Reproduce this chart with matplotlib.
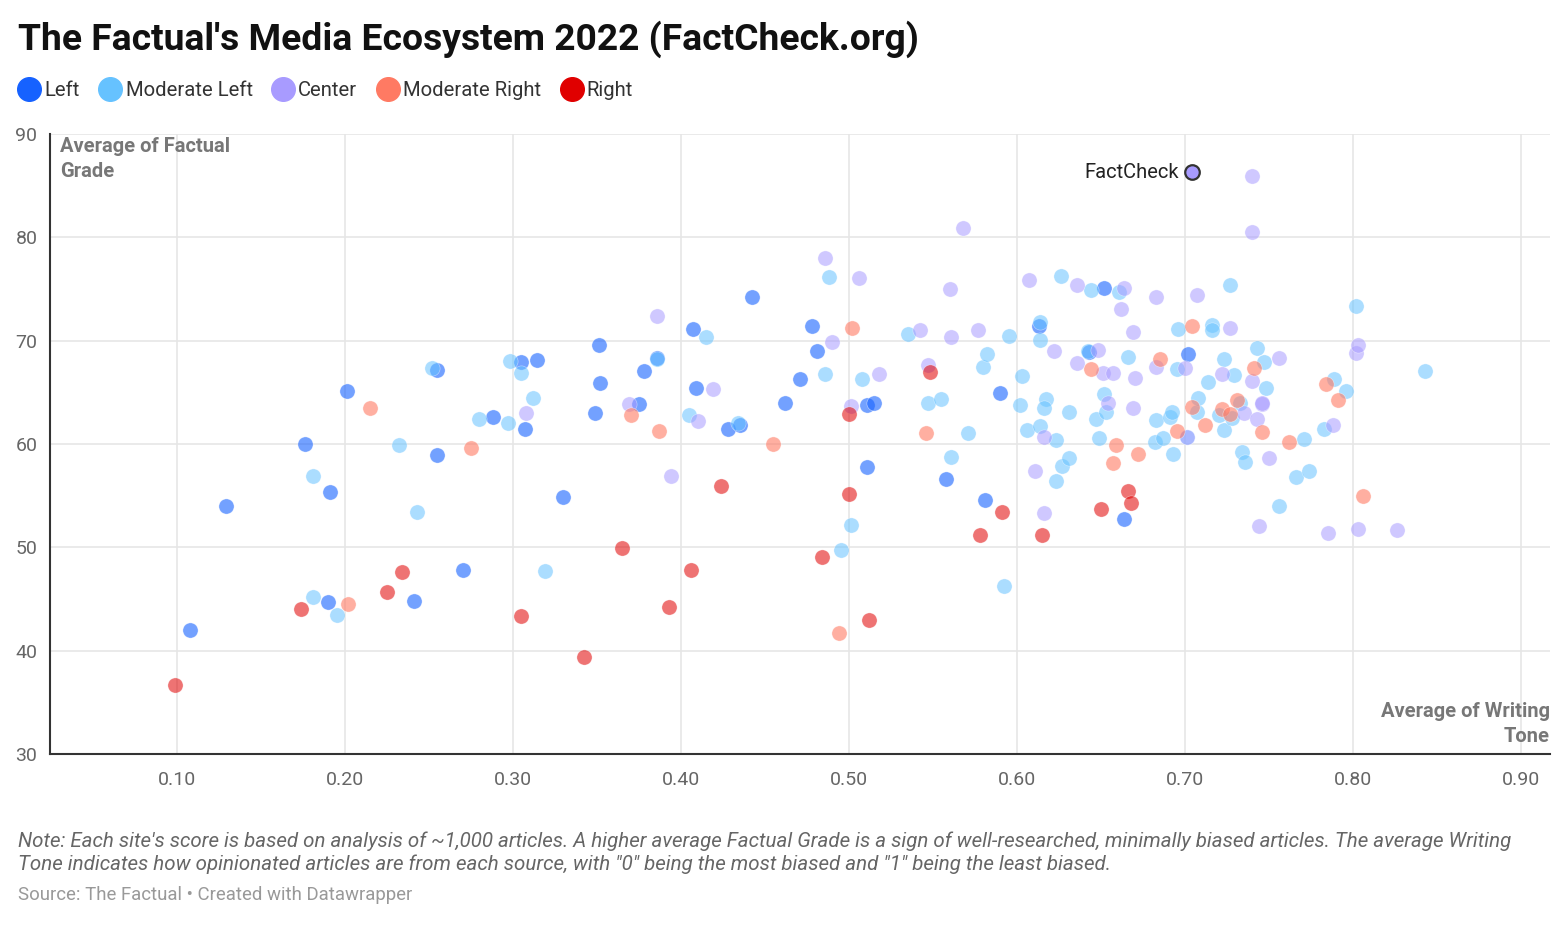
"""
The Factual's Media Ecosystem 2022 - scatter of writing tone vs factual grade.
Datawrapper-like styling.
"""
import matplotlib
matplotlib.use("Agg")
import matplotlib.pyplot as plt
from matplotlib.lines import Line2D

plt.rcParams["font.family"] = ["Roboto", "DejaVu Sans"]

# --- data (writing tone, factual grade) per bias group ---
LEFT_X = [0.108, 0.129, 0.176, 0.201, 0.191, 0.190, 0.241, 0.255, 0.255, 0.270,
          0.288, 0.305, 0.307, 0.314, 0.330, 0.351, 0.352, 0.349, 0.378, 0.375,
          0.386, 0.407, 0.409, 0.428, 0.435, 0.442, 0.462, 0.471, 0.478, 0.481,
          0.511, 0.515, 0.511, 0.558, 0.581, 0.590, 0.613, 0.643, 0.652, 0.664,
          0.702]
LEFT_Y = [42.0, 54.0, 60.0, 65.1, 55.4, 44.7, 44.8, 67.2, 58.9, 47.8,
          62.6, 67.9, 61.5, 68.1, 54.9, 69.6, 65.9, 63.0, 67.1, 63.9,
          68.3, 71.1, 65.4, 61.5, 61.8, 74.2, 64.0, 66.3, 71.4, 69.0,
          63.8, 64.0, 57.8, 56.6, 54.6, 64.9, 71.4, 68.9, 75.1, 52.7,
          68.7]

MODLEFT_X = [0.181, 0.195, 0.181, 0.232, 0.243, 0.252, 0.280, 0.297, 0.298, 0.305,
             0.312, 0.319, 0.386, 0.405, 0.415, 0.434, 0.488, 0.486, 0.508, 0.495,
             0.501, 0.535, 0.547, 0.555, 0.561, 0.571, 0.580, 0.582, 0.592, 0.595,
             0.603, 0.602, 0.606, 0.614, 0.614, 0.614, 0.617, 0.616, 0.623, 0.623,
             0.627, 0.631, 0.631, 0.626, 0.642, 0.644, 0.647, 0.649, 0.652, 0.653,
             0.661, 0.666, 0.682, 0.683, 0.687, 0.691, 0.692, 0.693, 0.695, 0.696,
             0.701, 0.707, 0.708, 0.714, 0.716, 0.716, 0.720, 0.723, 0.723, 0.727,
             0.728, 0.729, 0.733, 0.734, 0.736, 0.743, 0.747, 0.748, 0.756, 0.766,
             0.771, 0.774, 0.783, 0.789, 0.796, 0.802, 0.843]
MODLEFT_Y = [45.2, 43.5, 56.9, 59.9, 53.4, 67.4, 62.4, 62.0, 68.0, 66.9,
             64.5, 47.7, 68.2, 62.8, 70.4, 62.0, 76.2, 66.8, 66.3, 49.7,
             52.2, 70.6, 64.0, 64.4, 58.7, 61.1, 67.5, 68.7, 46.3, 70.5,
             66.6, 63.8, 61.4, 71.8, 70.1, 61.7, 64.4, 63.5, 60.4, 56.4,
             57.9, 58.6, 63.1, 76.3, 69.0, 74.9, 62.4, 60.6, 64.8, 63.1,
             74.7, 68.4, 60.2, 62.3, 60.6, 62.6, 63.1, 59.0, 67.3, 71.1,
             60.7, 63.1, 64.5, 66.0, 71.5, 71.0, 62.8, 61.4, 68.2, 75.4,
             62.5, 66.7, 64.0, 59.2, 58.3, 69.3, 67.9, 65.4, 54.0, 56.8,
             60.5, 57.4, 61.5, 66.3, 65.1, 73.4, 67.1]

CENTER_X = [0.308, 0.369, 0.386, 0.394, 0.410, 0.419, 0.486, 0.490, 0.501, 0.506,
            0.518, 0.542, 0.547, 0.561, 0.560, 0.568, 0.577, 0.607, 0.611, 0.616,
            0.616, 0.622, 0.636, 0.636, 0.648, 0.651, 0.654, 0.657, 0.662, 0.664,
            0.669, 0.669, 0.670, 0.683, 0.683, 0.700, 0.701, 0.707, 0.722, 0.727,
            0.735, 0.740, 0.740, 0.740, 0.743, 0.744, 0.746, 0.746, 0.750, 0.756,
            0.785, 0.788, 0.802, 0.803, 0.803, 0.826]
CENTER_Y = [63.0, 63.9, 72.4, 56.9, 62.2, 65.3, 78.0, 69.9, 63.7, 76.1,
            66.8, 71.0, 67.6, 70.4, 75.0, 80.9, 71.0, 75.9, 57.4, 60.7,
            53.3, 69.0, 75.4, 67.8, 69.1, 66.9, 64.0, 66.9, 73.1, 75.1,
            70.8, 63.5, 66.4, 67.5, 74.2, 67.4, 60.7, 74.4, 66.8, 71.2,
            63.0, 85.9, 80.5, 66.1, 62.4, 52.1, 63.9, 64.0, 58.6, 68.3,
            51.4, 61.8, 68.8, 69.6, 51.8, 51.7]

MODRIGHT_X = [0.215, 0.202, 0.275, 0.370, 0.387, 0.455, 0.502, 0.494, 0.546, 0.644,
              0.659, 0.657, 0.672, 0.685, 0.695, 0.704, 0.704, 0.712, 0.722, 0.727,
              0.731, 0.741, 0.746, 0.762, 0.784, 0.791, 0.806]
MODRIGHT_Y = [63.5, 44.5, 59.6, 62.8, 61.3, 60.0, 71.2, 41.7, 61.1, 67.3,
              59.9, 58.2, 59.0, 68.2, 61.3, 71.4, 63.6, 61.8, 63.4, 62.9,
              64.3, 67.4, 61.2, 60.2, 65.8, 64.3, 55.0]

RIGHT_X = [0.099, 0.174, 0.225, 0.234, 0.305, 0.342, 0.365, 0.393, 0.406, 0.424,
           0.484, 0.500, 0.500, 0.512, 0.548, 0.578, 0.591, 0.615, 0.650, 0.666,
           0.668]
RIGHT_Y = [36.7, 44.0, 45.7, 47.6, 43.4, 39.4, 49.9, 44.2, 47.8, 55.9,
           49.1, 62.9, 55.2, 43.0, 67.0, 51.2, 53.4, 51.2, 53.7, 55.5,
           54.3]

HIGHLIGHT_NAME = "FactCheck"
HIGHLIGHT_X = 0.704
HIGHLIGHT_Y = 86.3

GROUPS = ["Left", "Moderate Left", "Center", "Moderate Right", "Right"]
COLORS = ["#1662ff", "#66c2ff", "#a89bff", "#ff7a63", "#e00000"]
ALPHAS = [0.6, 0.55, 0.55, 0.6, 0.55]

X_TICKS = [0.1, 0.2, 0.3, 0.4, 0.5, 0.6, 0.7, 0.8, 0.9]
Y_TICKS = [30, 40, 50, 60, 70, 80, 90]

TITLE = "The Factual's Media Ecosystem 2022 (FactCheck.org)"
NOTE = ("Note: Each site's score is based on analysis of ~1,000 articles. A higher average "
        "Factual Grade is a sign of well-researched, minimally biased articles. The average Writing\n"
        "Tone indicates how opinionated articles are from each source, with \"0\" being the most "
        "biased and \"1\" being the least biased.")
SOURCE = "Source: The Factual \u2022 Created with Datawrapper"

W, H = 1568, 935
fig = plt.figure(figsize=(W / 100, H / 100), dpi=100)
ax = fig.add_axes([50 / W, 1 - 754 / H, 1500 / W, 620 / H])

series = [(LEFT_X, LEFT_Y), (MODLEFT_X, MODLEFT_Y), (CENTER_X, CENTER_Y),
          (MODRIGHT_X, MODRIGHT_Y), (RIGHT_X, RIGHT_Y)]
for (xs, ys), col, a in zip(series, COLORS, ALPHAS):
    ax.scatter(xs, ys, s=120, color=col, alpha=a, edgecolors="white",
               linewidths=0.4, zorder=3)

# highlighted outlet
ax.scatter([HIGHLIGHT_X], [HIGHLIGHT_Y], s=110, color=COLORS[2],
           edgecolors="#333333", linewidths=1.6, zorder=5)
ax.annotate(HIGHLIGHT_NAME, (HIGHLIGHT_X, HIGHLIGHT_Y), xytext=(-9, 0),
            textcoords="offset points", ha="right", va="center",
            fontsize=14.5, color="#222222", zorder=6)

ax.set_xlim(0.0244, 0.9173)
ax.set_ylim(30, 90)
ax.set_xticks(X_TICKS)
ax.set_xticklabels([f"{t:.2f}" for t in X_TICKS])
ax.set_yticks(Y_TICKS)
ax.tick_params(axis="both", length=0, labelsize=14, colors="#666666")
ax.tick_params(axis="x", pad=12)
ax.tick_params(axis="y", pad=9)
ax.grid(True, color="#e6e6e6", linewidth=1.2, zorder=0)
ax.set_axisbelow(True)
for side in ["top", "right"]:
    ax.spines[side].set_visible(False)
for side in ["left", "bottom"]:
    ax.spines[side].set_color("#333333")
    ax.spines[side].set_linewidth(1.5)

ax.text(10 / 1500, 1 - 3 / 620, "Average of Factual\nGrade", transform=ax.transAxes,
        ha="left", va="top", fontsize=14.5, fontweight="bold", color="#777777",
        linespacing=1.4)
ax.text(1.0, 8 / 620, "Average of Writing\nTone", transform=ax.transAxes,
        ha="right", va="bottom", fontsize=14.5, fontweight="bold", color="#777777",
        linespacing=1.4)

# title, legend, notes
fig.text(18 / W, 1 - 39 / H, TITLE, ha="left", va="center", fontsize=26.8,
         fontweight="bold", color="#111111")

handles = [Line2D([], [], marker="o", linestyle="", markersize=17,
                  markerfacecolor=c, markeredgecolor=c, label=g)
           for g, c in zip(GROUPS, COLORS)]
fig.legend(handles=handles, loc="center left", bbox_to_anchor=(8 / W, 1 - 91 / H),
           ncol=5, frameon=False, fontsize=14.6, handletextpad=0.1,
           columnspacing=0.85, handlelength=1.3, borderaxespad=0,
           labelcolor="#333333")

fig.text(18 / W, 1 - 853 / H, NOTE, ha="left", va="center", fontsize=14.8,
         style="italic", color="#666666", linespacing=1.25)
fig.text(18 / W, 1 - 895 / H, SOURCE, ha="left", va="center", fontsize=13.4,
         color="#999999")

fig.savefig("out.png", dpi=100)
